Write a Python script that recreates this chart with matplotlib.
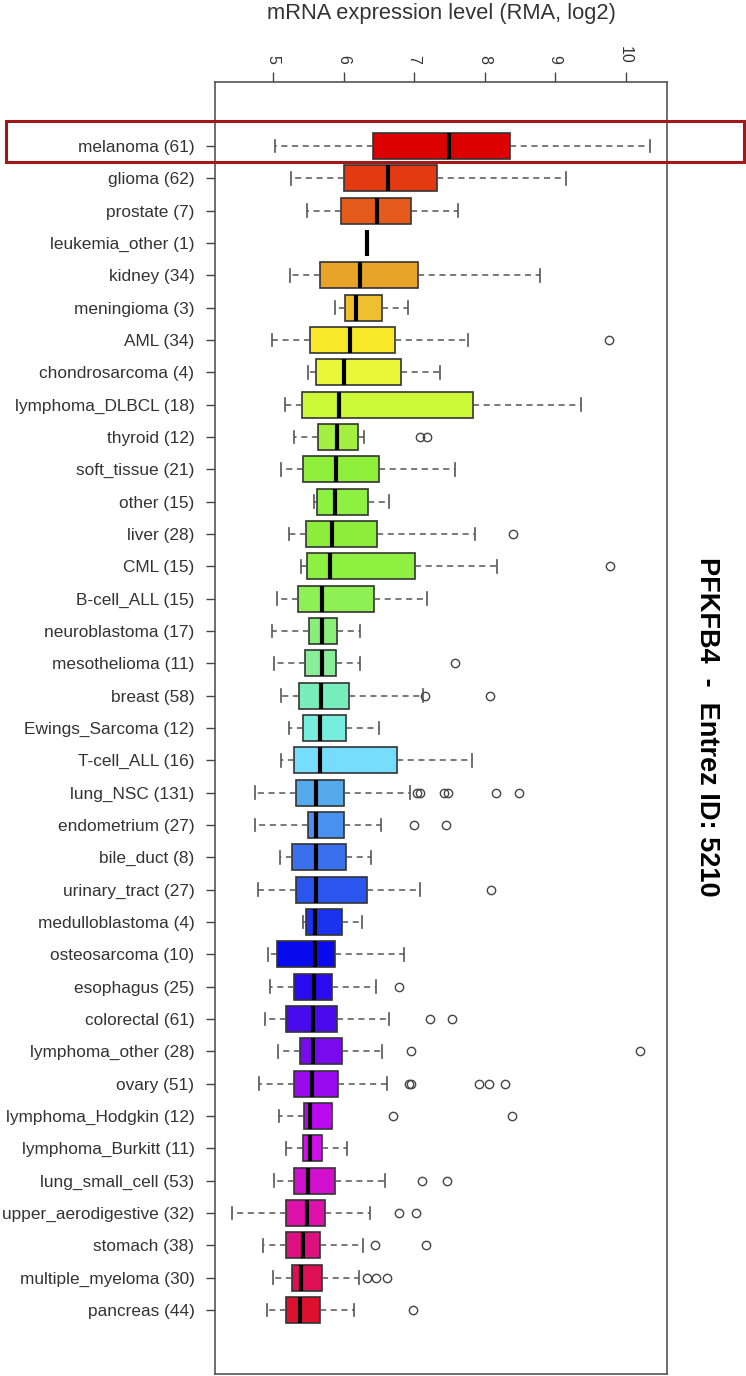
import matplotlib
matplotlib.use("Agg")
import matplotlib.pyplot as plt
import matplotlib.patches as mpatches

plt.rcParams['font.family'] = ['Liberation Sans', 'DejaVu Sans']

labels = ["melanoma (61)", "glioma (62)", "prostate (7)", "leukemia_other (1)",
          "kidney (34)", "meningioma (3)", "AML (34)", "chondrosarcoma (4)",
          "lymphoma_DLBCL (18)", "thyroid (12)", "soft_tissue (21)", "other (15)",
          "liver (28)", "CML (15)", "B-cell_ALL (15)", "neuroblastoma (17)",
          "mesothelioma (11)", "breast (58)", "Ewings_Sarcoma (12)", "T-cell_ALL (16)",
          "lung_NSC (131)", "endometrium (27)", "bile_duct (8)", "urinary_tract (27)",
          "medulloblastoma (4)", "osteosarcoma (10)", "esophagus (25)", "colorectal (61)",
          "lymphoma_other (28)", "ovary (51)", "lymphoma_Hodgkin (12)",
          "lymphoma_Burkitt (11)", "lung_small_cell (53)", "upper_aerodigestive (32)",
          "stomach (38)", "multiple_myeloma (30)", "pancreas (44)"]

whislo = [5.03, 5.26, 5.48, 6.33, 5.24, 5.88, 4.99, 5.50, 5.17, 5.29, 5.11, 5.58,
          5.23, 5.40, 5.05, 4.99, 5.01, 5.11, 5.23, 5.11, 4.74, 4.75, 5.10, 4.79,
          5.42, 4.93, 4.95, 4.88, 5.07, 4.80, 5.09, 5.19, 5.01, 4.41, 4.85, 5.00, 4.92]
q1 = [6.42, 6.01, 5.97, 6.33, 5.67, 6.02, 5.53, 5.61, 5.41, 5.63, 5.43, 5.62,
      5.47, 5.48, 5.35, 5.51, 5.45, 5.37, 5.42, 5.29, 5.33, 5.49, 5.27, 5.33,
      5.46, 5.06, 5.29, 5.19, 5.38, 5.29, 5.44, 5.43, 5.29, 5.19, 5.18, 5.27, 5.18]
med = [7.49, 6.63, 6.48, 6.33, 6.23, 6.18, 6.09, 6.00, 5.94, 5.91, 5.89, 5.88,
       5.84, 5.81, 5.70, 5.70, 5.69, 5.68, 5.67, 5.66, 5.61, 5.61, 5.61, 5.61,
       5.60, 5.59, 5.58, 5.57, 5.56, 5.55, 5.52, 5.52, 5.50, 5.48, 5.43, 5.40, 5.38]
q3 = [8.36, 7.32, 6.96, 6.33, 7.06, 6.54, 6.73, 6.82, 7.84, 6.21, 6.50, 6.35,
      6.47, 7.01, 6.43, 5.91, 5.89, 6.08, 6.04, 6.76, 6.00, 6.01, 6.04, 6.33,
      5.98, 5.88, 5.83, 5.91, 5.98, 5.92, 5.84, 5.70, 5.88, 5.73, 5.67, 5.70, 5.67]
whishi = [10.35, 9.16, 7.62, 6.33, 8.79, 6.91, 7.77, 7.37, 9.37, 6.29, 7.58, 6.64,
          7.87, 8.18, 7.19, 6.24, 6.24, 7.12, 6.50, 7.82, 6.94, 6.53, 6.39, 7.08,
          6.26, 6.86, 6.46, 6.64, 6.55, 6.62, 5.84, 6.05, 6.59, 6.37, 6.27, 6.22, 6.15]
fliers = [[], [], [], [], [], [], [9.77], [], [], [7.09, 7.19], [], [],
          [8.41], [9.78], [], [], [7.58], [7.16, 8.08], [], [],
          [7.04, 7.08, 7.42, 7.48, 8.16, 8.49], [7.00, 7.45], [], [8.09],
          [], [], [6.79], [7.22, 7.54], [6.95, 10.20],
          [6.93, 6.96, 7.92, 8.07, 8.29], [6.70, 8.39], [], [7.11, 7.47],
          [6.79, 7.03], [6.44, 7.17], [6.33, 6.46, 6.61], [6.99]]

colors = ["#DD0000", "#E33A12", "#E35A1A", "#E88020", "#E8A428", "#EEC030",
          "#F8E82A", "#E8F838", "#CCFA38", "#A4F040", "#8EEE3A", "#8EF040",
          "#8CEE3A", "#8EF040", "#8EF052", "#88EE77", "#88EE99", "#77EEBB",
          "#77EEDD", "#77DDFF", "#55AAEE", "#4A90EE", "#3A70EE", "#2A55EE",
          "#1A33EE", "#0A0AEE", "#2A0AEE", "#4A0AEE", "#7A0AEE", "#9A0AEE",
          "#BB0AEE", "#D010E8", "#D010CC", "#DD10AA", "#DD1080", "#DD1055",
          "#DD1030"]

n = len(labels)
positions = list(range(1, n + 1))

stats = []
for i in range(n):
    stats.append(dict(med=med[i], q1=q1[i], q3=q3[i], whislo=whislo[i],
                      whishi=whishi[i], fliers=fliers[i], label=labels[i]))

W, H = 746, 1376
fig = plt.figure(figsize=(W / 100, H / 100), dpi=100)
ax = fig.add_axes([214.6 / W, 2 / H, (666.6 - 214.6) / W, (1374 - 82) / H])

res = ax.bxp(stats, positions=positions, widths=0.8, capwidths=0.4,
             orientation='horizontal', patch_artist=True, showfliers=True,
             boxprops=dict(edgecolor='#333333', linewidth=1.2),
             medianprops=dict(color='black', linewidth=3, solid_capstyle='butt'),
             whiskerprops=dict(color='#555555', linewidth=1.1, linestyle=(0, (4, 3))),
             capprops=dict(color='#555555', linewidth=1.2),
             flierprops=dict(marker='o', markerfacecolor='none',
                             markeredgecolor='#444444', markersize=6,
                             markeredgewidth=1.0))
for patch, c in zip(res['boxes'], colors):
    patch.set_facecolor(c)

ax.set_xlim(4.170, 10.583)
ax.set_ylim(n + 1.98, 1 - 1.98)

ax.xaxis.tick_top()
ax.set_xticks([5, 6, 7, 8, 9, 10])
ax.set_xticklabels(['5', '6', '7', '8', '9', '10'], rotation=-90, fontsize=11.5,
                   color='#333333')
ax.set_yticks(positions)
ax.set_yticklabels(labels, fontsize=12.4, color='#333333')
ax.tick_params(axis='x', direction='out', length=7, width=1, color='#444444', pad=6)
ax.tick_params(axis='y', direction='out', length=6.5, width=1, color='#444444', pad=8)
for sp in ax.spines.values():
    sp.set_color('#555555')
    sp.set_linewidth(1.2)

fig.text(441 / W, 1 - 14 / H, 'mRNA expression level (RMA, log2)',
         ha='center', va='center', fontsize=15.75, color='#333333')
fig.text(707.5 / W, 1 - 727 / H, 'PFKFB4  -  Entrez ID: 5210', rotation=-90,
         ha='center', va='center', fontsize=19.5, fontweight='bold', color='black')

rect = mpatches.Rectangle((6 / W, 1 - 162.3 / H), (743.5 - 6) / W, (162.3 - 120.7) / H,
                          transform=fig.transFigure, fill=False,
                          edgecolor='#A01818', linewidth=2.2)
fig.patches.append(rect)

fig.savefig('out.png', dpi=100)
